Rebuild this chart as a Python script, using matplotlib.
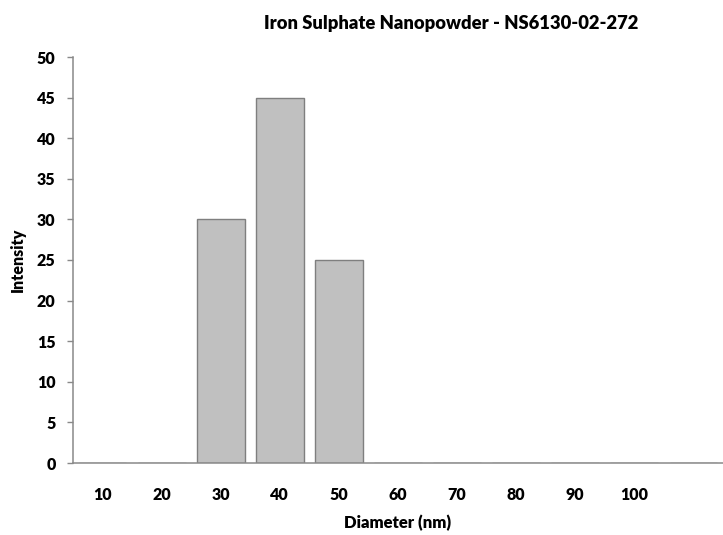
import matplotlib
matplotlib.use("Agg")
import matplotlib.pyplot as plt

categories = ["10", "20", "30", "40", "50", "60", "70", "80", "90", "100", ""]
intensity = [0, 0, 30, 45, 25, 0, 0, 0, 0, 0, 0]
y_ticks = [0, 5, 10, 15, 20, 25, 30, 35, 40, 45, 50]
title = "Iron Sulphate Nanopowder - NS6130-02-272"

plt.rcParams['font.family'] = ['Lato', 'DejaVu Sans']
W = "heavy"

fig = plt.figure(figsize=(7.23, 5.35), dpi=100)
ax = fig.add_axes([73/723, 1-463/535, (723-73)/723, (463-57)/535])

x = list(range(len(categories)))
ax.bar(x, intensity, width=0.81, color="#c0c0c0", edgecolor="#7f7f7f", linewidth=1.0)

ax.set_xlim(-0.5, len(categories) - 0.5)
ax.set_ylim(0, 50)
ax.set_yticks(y_ticks)
ax.set_xticks(x)
ax.set_xticklabels(categories)

for s in ["top", "right"]:
    ax.spines[s].set_visible(False)
for s in ["left", "bottom"]:
    ax.spines[s].set_color("#898989")
    ax.spines[s].set_linewidth(1.1)

ax.tick_params(axis="y", length=4.5, width=1.0, color="#898989", pad=8, labelsize=11.5)
ax.tick_params(axis="x", length=0, pad=17, labelsize=11.5)
for lab in ax.get_xticklabels() + ax.get_yticklabels():
    lab.set_fontweight(W)

ax.set_xlabel("Diameter (nm)", fontsize=12, fontweight=W, labelpad=9)
fig.text(18/723, 1 - 260/535, "Intensity", fontsize=11.5, fontweight=W,
         rotation=90, ha="center", va="center")

fig.text(451/723, 1 - 23/535, title, fontsize=13.2, fontweight=W,
         ha="center", va="center", color="#000000")

fig.savefig("out.png", dpi=100)
